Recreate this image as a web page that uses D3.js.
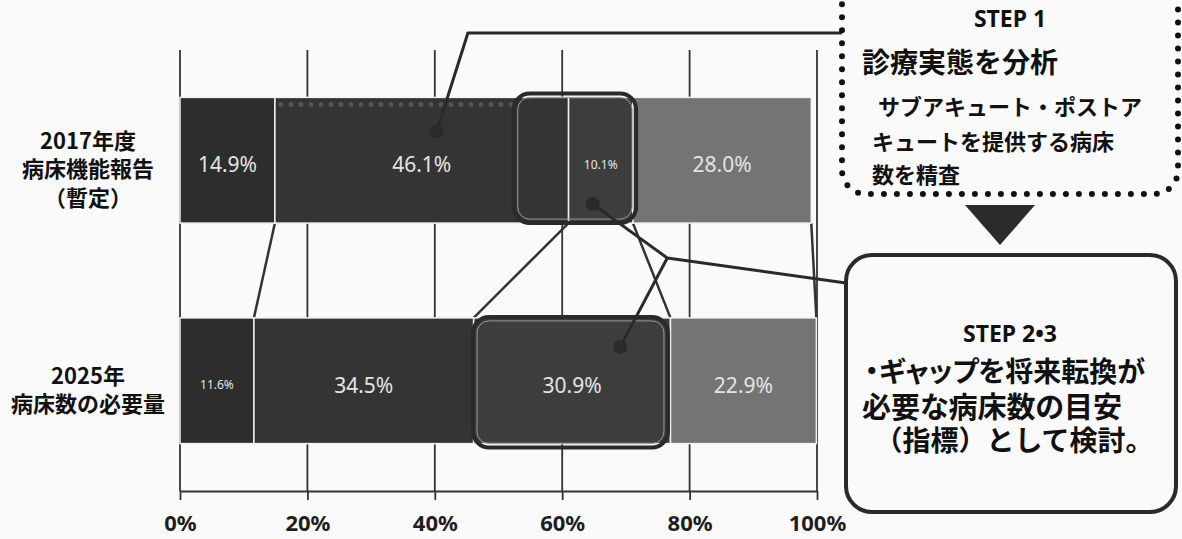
<!DOCTYPE html>
<html>
<head>
<meta charset="utf-8">
<script src="https://cdn.jsdelivr.net/npm/d3@7"></script>
<style>
  body { margin: 0; background: #fafafa; }
  svg { display: block; }
  .jp { font-family: "Noto Sans CJK JP", "Noto Sans", sans-serif; font-weight: 700; }
</style>
</head>
<body>
<div id="chart"></div>
<script>
var svgWidth = 1182;
var svgHeight = 539;

// data
var categories = ["2017", "2025"];
var categoryLabels = [["2017年度", "病床機能報告", "（暫定）"], ["2025年", "病床数の必要量"]];
var seriesNames = ["高度急性期", "急性期", "回復期", "慢性期"];
var values2017 = [14.9, 46.1, 10.1, 28.0];
var values2025 = [11.6, 34.5, 30.9, 22.9];
var tickValues = [0, 20, 40, 60, 80, 100];
var segColors = ["#2d2d2d", "#343434", "#3d3d3d", "#747474"];

var svg = d3.select("#chart")
  .append("svg")
  .attr("width", svgWidth)
  .attr("height", svgHeight);

svg.append("rect").attr("width", svgWidth).attr("height", svgHeight).attr("fill", "#fafafa");

// build table for d3.stack
var table = categories.map(function(c, i) {
  var row = { cat: c };
  var vals = i === 0 ? values2017 : values2025;
  seriesNames.forEach(function(s, j) { row[s] = vals[j]; });
  return row;
});
var stacked = d3.stack().keys(seriesNames)(table);

var x = d3.scaleLinear().domain([0, 100]).range([180, 817]);
var y = d3.scaleBand().domain(categories).range([50, 491]).paddingInner(0.43).paddingOuter(0.215);

// gridlines
svg.append("g").selectAll("line")
  .data(tickValues)
  .enter()
  .append("line")
  .attr("x1", d => x(d)).attr("x2", d => x(d))
  .attr("y1", 50).attr("y2", 491)
  .attr("stroke", "#333").attr("stroke-width", 1.8);

// axis
var axis = svg.append("g")
  .attr("transform", "translate(0,491)")
  .call(d3.axisBottom(x).tickValues(tickValues).tickSizeInner(9).tickSizeOuter(0).tickPadding(15).tickFormat(d => d + "%"));
axis.select(".domain").attr("stroke", "#333").attr("stroke-width", 2);
axis.selectAll(".tick line").attr("stroke", "#333").attr("stroke-width", 1.8);
axis.selectAll(".tick text")
  .attr("fill", "#1e1e1e")
  .style("font-family", "'Noto Sans', sans-serif")
  .style("font-weight", "700")
  .style("font-size", "22px");

// series lines between bars
var bw = y.bandwidth();
var seriesLines = svg.append("g");
stacked.forEach(function(layer) {
  seriesLines.append("line")
    .attr("x1", x(layer[0][1])).attr("y1", y(categories[0]) + bw)
    .attr("x2", x(layer[1][1])).attr("y2", y(categories[1]))
    .attr("stroke", "#333").attr("stroke-width", 2.5);
});

// bars
var layers = svg.append("g").selectAll("g")
  .data(stacked)
  .enter()
  .append("g")
  .attr("fill", (d, i) => segColors[i]);

layers.selectAll("rect")
  .data(d => d)
  .enter()
  .append("rect")
  .attr("x", d => x(d[0]))
  .attr("y", d => y(d.data.cat))
  .attr("width", d => x(d[1]) - x(d[0]))
  .attr("height", bw)
  .attr("stroke", "#f2f2f2")
  .attr("stroke-width", 1.5);

// faint dotted texture on top of 2017 急性期
svg.append("line")
  .attr("x1", x(values2017[0]) + 6).attr("x2", x(52.4))
  .attr("y1", y("2017") + 7).attr("y2", y("2017") + 7)
  .attr("stroke", "#555").attr("stroke-width", 5)
  .attr("stroke-dasharray", "0 10").attr("stroke-linecap", "round");

// highlight boxes
function hlBox(x0, x1, y0, y1) {
  var g = svg.append("g");
  g.append("rect")
    .attr("x", x0).attr("y", y0).attr("width", x1 - x0).attr("height", y1 - y0)
    .attr("rx", 16).attr("fill", "none").attr("stroke", "#2a2a2a").attr("stroke-width", 4);
  g.append("rect")
    .attr("x", x0 + 4).attr("y", y0 + 4).attr("width", x1 - x0 - 8).attr("height", y1 - y0 - 8)
    .attr("rx", 12).attr("fill", "none").attr("stroke", "#9a9a9a").attr("stroke-width", 1);
}
hlBox(x(52.4), x(71.6), y("2017") - 4, y("2017") + bw);
hlBox(x(46.0), x(76.6), y("2025") - 1, y("2025") + bw + 4);

// bar value labels
layers.selectAll("text")
  .data(d => d)
  .enter()
  .append("text")
  .attr("x", d => x((d[0] + d[1]) / 2))
  .attr("y", d => y(d.data.cat) + bw / 2 + 4)
  .attr("text-anchor", "middle")
  .attr("dominant-baseline", "central")
  .attr("fill", "#e4e4e4")
  .style("font-family", "'Noto Sans', sans-serif")
  .style("font-size", d => (d[1] - d[0]) < 12 ? "12px" : "21px")
  .text(d => (d[1] - d[0]).toFixed(1) + "%");

// category labels
categories.forEach(function(c, i) {
  var lines = categoryLabels[i];
  var cy = y(c) + bw / 2 + 7;
  lines.forEach(function(t, j) {
    svg.append("text")
      .attr("class", "jp")
      .attr("x", 88)
      .attr("y", cy + (j - (lines.length - 1) / 2) * 28.5)
      .attr("text-anchor", "middle")
      .attr("dominant-baseline", "central")
      .attr("fill", "#111")
      .style("font-size", "22px")
      .text(t);
  });
});

// callout lines and dots
var line = d3.line();
var callouts = svg.append("g").attr("fill", "none").attr("stroke", "#2a2a2a").attr("stroke-width", 3).attr("stroke-linejoin", "round");
var dot1 = [x(40.3), y("2017") + 34];
var dot2 = [x(64.8), y("2017") + bw - 19];
var dot3 = [x(69.1), y("2025") + 29];
var junction = [x(76.5), 258];
callouts.append("path").attr("d", line([dot1, [x(45.2), 33], [842, 33]]));
callouts.append("path").attr("d", line([dot2, junction, [846, 283]]));
callouts.append("path").attr("d", line([junction, dot3]));
svg.append("g").selectAll("circle")
  .data([dot1, dot2, dot3])
  .enter()
  .append("circle")
  .attr("cx", d => d[0]).attr("cy", d => d[1]).attr("r", 7)
  .attr("fill", "#2a2a2a");

// STEP 1 dotted box
svg.append("rect")
  .attr("x", 842).attr("y", -40).attr("width", 336).attr("height", 234)
  .attr("rx", 24)
  .attr("fill", "none").attr("stroke", "#111").attr("stroke-width", 6)
  .attr("stroke-dasharray", "0 13").attr("stroke-linecap", "round");

svg.append("text")
  .attr("x", 1010).attr("y", 18)
  .attr("text-anchor", "middle").attr("dominant-baseline", "central")
  .attr("fill", "#111")
  .style("font-family", "'Noto Sans', sans-serif").style("font-weight", "700").style("font-size", "23px")
  .text("STEP 1");

var step1Lines = [
  { t: "診療実態を分析", x: 862, y: 61, s: 28 },
  { t: "サブアキュート・ポストア", x: 878, y: 105, s: 22 },
  { t: "キュートを提供する病床", x: 872, y: 140, s: 22 },
  { t: "数を精査", x: 872, y: 173, s: 22 }
];
step1Lines.forEach(function(l) {
  svg.append("text")
    .attr("class", "jp")
    .attr("x", l.x).attr("y", l.y)
    .attr("dominant-baseline", "central")
    .attr("fill", "#111")
    .style("font-size", l.s + "px")
    .text(l.t);
});

// arrow
svg.append("path")
  .attr("d", "M965,205 L1035,205 L1000,245 Z")
  .attr("fill", "#2a2a2a");

// STEP 2・3 box
svg.append("rect")
  .attr("x", 846).attr("y", 255).attr("width", 330).attr("height", 257)
  .attr("rx", 26)
  .attr("fill", "none").attr("stroke", "#2a2a2a").attr("stroke-width", 4);

svg.append("text")
  .attr("x", 1010).attr("y", 333)
  .attr("text-anchor", "middle").attr("dominant-baseline", "central")
  .attr("fill", "#111")
  .style("font-family", "'Noto Sans', sans-serif").style("font-weight", "700").style("font-size", "23px")
  .text("STEP 2•3");

var step2Lines = [
  { t: "・ギャップを将来転換が", x: 1005, y: 370, s: 28, palt: true },
  { t: "必要な病床数の目安", x: 992, y: 405, s: 29, palt: true },
  { t: "（指標）として検討。", x: 1014, y: 439, s: 28, palt: false }
];
step2Lines.forEach(function(l) {
  svg.append("text")
    .attr("class", "jp")
    .attr("x", l.x).attr("y", l.y)
    .attr("text-anchor", "middle")
    .attr("dominant-baseline", "central")
    .attr("fill", "#111")
    .style("font-size", l.s + "px")
    .style("font-feature-settings", l.palt ? "'palt'" : "normal")
    .text(l.t);
});
</script>
</body>
</html>
